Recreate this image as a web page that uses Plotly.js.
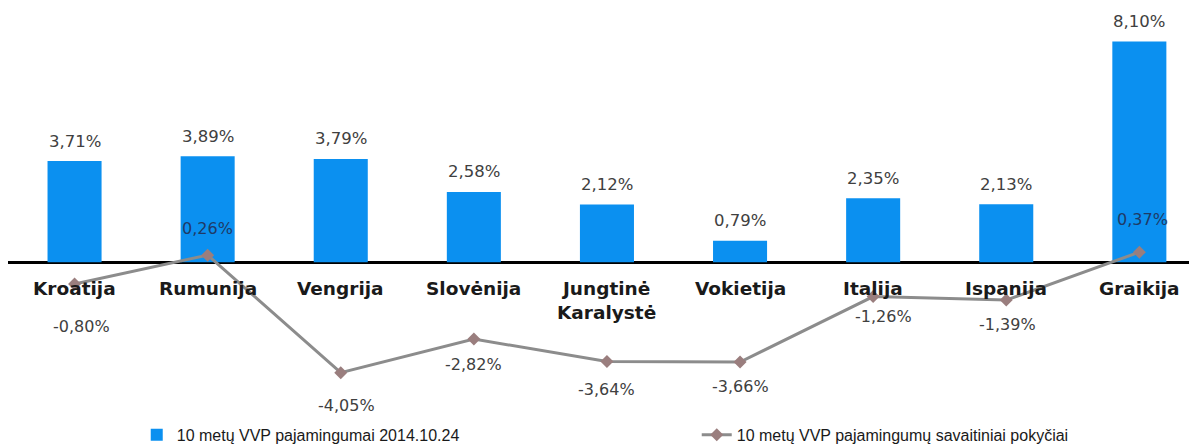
<!DOCTYPE html>
<html>
<head>
<meta charset="utf-8">
<script src="https://cdn.plot.ly/plotly-3.0.1.min.js"></script>
<style>html,body{margin:0;padding:0;background:#fff;}#chart{width:1189px;height:447px;}</style>
</head>
<body>
<div id="chart"></div>
<script>
// ---- data ----
const categories = ["Kroatija", "Rumunija", "Vengrija", "Slovėnija", "Jungtinė<br>Karalystė", "Vokietija", "Italija", "Ispanija", "Graikija"];
const yields = [3.71, 3.89, 3.79, 2.58, 2.12, 0.79, 2.35, 2.13, 8.10];
const weeklyChanges = [-0.80, 0.26, -4.05, -2.82, -3.64, -3.66, -1.26, -1.39, 0.37];
const barName = "10 metų VVP pajamingumai 2014.10.24";
const lineName = "10 metų VVP pajamingumų savaitiniai pokyčiai";

// ---- label placement (style only) ----
const lineLabelShiftY = [-42, 27, -33, -25, -28, -24, -20, -24, 33];
const lineLabelShiftX = [7, 0, 6, 0, 0, 0, 10, 1, 3];

const fmt = v => v.toFixed(2).replace('.', ',') + '%';

const traces = [
  {
    type: 'bar', name: barName, x: categories, y: yields,
    marker: {color: '#0B90F0'},
    hoverinfo: 'skip'
  },
  {
    type: 'scatter', mode: 'lines+markers', name: lineName, x: categories, y: weeklyChanges,
    line: {color: '#8C8C8C', width: 3},
    marker: {symbol: 'diamond', size: 10, color: '#9A7E7E'},
    cliponaxis: false, hoverinfo: 'skip'
  }
];

const annotations = [];
categories.forEach((c, i) => {
  annotations.push({
    x: c, y: yields[i], xref: 'x', yref: 'y', text: fmt(yields[i]), showarrow: false,
    yanchor: 'middle', yshift: 20, font: {family: 'DejaVu Sans', size: 16.5, color: '#404040'}
  });
  annotations.push({
    x: c, y: 0, xref: 'x', yref: 'y', text: '<b>' + c + '</b>', showarrow: false,
    yanchor: 'top', yshift: -14, font: {family: 'DejaVu Sans', size: 18.5, color: '#1a1a1a'}
  });
  annotations.push({
    x: c, y: weeklyChanges[i], xref: 'x', yref: 'y', text: fmt(weeklyChanges[i]), showarrow: false,
    yanchor: 'middle', yshift: lineLabelShiftY[i], xshift: lineLabelShiftX[i],
    font: {family: 'DejaVu Sans', size: 16, color: weeklyChanges[i] > 0 ? '#1F3A66' : '#404040'}
  });
});

const pxPerUnit = 27.4, zeroPx = 263.5;
const layout = {
  width: 1189, height: 447,
  margin: {l: 8, r: 0, t: 10, b: 27},
  paper_bgcolor: '#fff', plot_bgcolor: '#fff',
  bargap: 0.594,
  showlegend: true,
  legend: {
    orientation: 'h', xref: 'container', yref: 'container', x: 0.115, y: 0.027,
    xanchor: 'left', yanchor: 'middle', entrywidth: 515,
    font: {family: 'Liberation Sans', size: 16, color: '#1a1a1a'}
  },
  xaxis: {
    range: [-0.5, -0.5 + 1181 / 133.1], showticklabels: false, showgrid: false,
    zeroline: false, showline: false, ticks: ''
  },
  yaxis: {
    range: [-(420 - zeroPx) / pxPerUnit, (zeroPx - 10) / pxPerUnit], showticklabels: false, showgrid: false,
    zeroline: true, zerolinecolor: '#000', zerolinewidth: 3, ticks: ''
  },
  annotations: annotations
};

Plotly.newPlot('chart', traces, layout, {staticPlot: true});
</script>
</body>
</html>
